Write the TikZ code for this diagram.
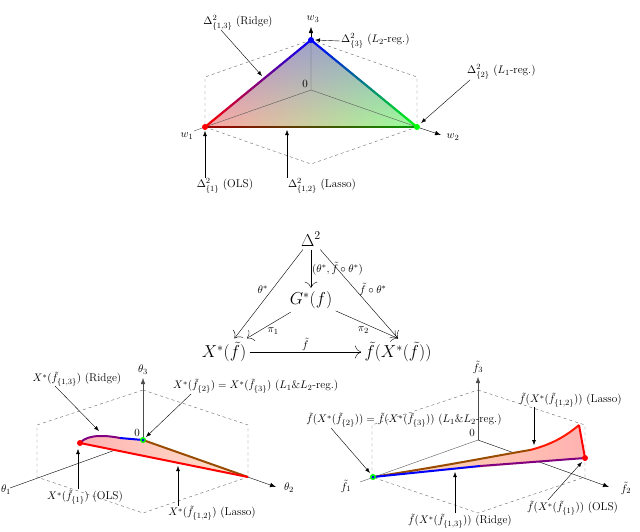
\documentclass[tikz,border=0pt]{standalone}
\usetikzlibrary{fadings,calc,arrows.meta}
\begin{document}
\begin{tikzpicture}[x=1pt,y=-1pt,
  lab/.style={font=\fontsize{11.3}{13}\selectfont,inner sep=1pt},
  big/.style={font=\fontsize{18}{21}\selectfont},
  ptr/.style={-{Latex[length=5pt]},thin},
  ax/.style={gray!70!black,thin},
  axa/.style={-{Latex[length=6pt]},black,thin},
  dsh/.style={dashed,gray!80!black,thin},
  darr/.style={-{To[length=6pt]},thin}]
\useasboundingbox (0,0) rectangle (640,531);
\newcommand\gradseg[4]{\foreach \i in {0,...,19}{\pgfmathtruncatemacro\pp{100-5*\i}
  \draw[line width=2.2pt,color=#3!\pp!#4,line cap=round] ($(#1)!\i/20!(#2)$)--($(#1)!\i/20+0.05!(#2)$);}}
%%%% TOP
\coordinate (O) at (311,90); \coordinate (B) at (311,40);
\coordinate (R) at (205,127); \coordinate (G) at (417,127);
\draw[dsh] (311,40)--(417,77)--(417,127)--(311,164)--(205,127)--(205,77)--cycle;
\shade[left color=red!35,right color=green!40] (R)--(B)--(G)--cycle;
\fill[blue!60,path fading=south,fill opacity=0.45] (R)--(B)--(G)--cycle;
\draw[ax] (O)--(B) (O)--(R) (O)--(G);
\draw[axa] (B)--(311,27); \node[lab] (w3) at (313,19) {$w_3$};
\draw[ax] (R)--(194,131); \node[lab] (w1) at (187,136) {$w_1$};
\draw[axa] (G)--(441,135); \node[lab] (w2) at (453,137) {$w_2$};
\node[lab,anchor=south east] (o0) at (309,89) {$0$};
\gradseg{R}{B}{red}{blue}\gradseg{B}{G}{blue}{green}\gradseg{R}{G}{red}{green!60!black}
\fill[red] (R) circle (3pt); \fill[green] (G) circle (3pt); \fill[blue] (B) circle (3pt);
\node[lab] (l13) at (238,23) {$\Delta^2_{\{1,3\}}$ (Ridge)};
\coordinate (p13) at (262,76); \draw[ptr] (221,30)--(p13);
\node[lab,anchor=west] (l3) at (340,41) {$\Delta^2_{\{3\}}$ ($L_2$-reg.)};
\draw[ptr] (l3.west)--(315,40);
\node[lab,anchor=west] (l2) at (466,72) {$\Delta^2_{\{2\}}$ ($L_1$-reg.)};
\coordinate (p2) at (421,123); \draw[ptr] (470,80)--(p2);
\node[lab] (l1) at (225,186) {$\Delta^2_{\{1\}}$ (OLS)};
\draw[ptr] (205,178)--(205,131);
\node[lab] (l12) at (322,186) {$\Delta^2_{\{1,2\}}$ (Lasso)};
\draw[ptr] (287,178)--(287,130);
%%%% MIDDLE
\node[big] (D) at (311,239) {$\Delta^2$};
\node[big] (Gs) at (311,300) {$G^*(f)$};
\node[big] (X) at (224,352) {$X^*(\tilde f)$};
\node[big] (F) at (398,352) {$\tilde f(X^*(\tilde f))$};
\draw[darr] (D)--(Gs) node[midway,right,lab,font=\fontsize{11}{13}\selectfont] {$(\theta^*,\tilde f\circ\theta^*)$};
\draw[darr] (D)--(X) node[pos=0.45,left,lab,font=\fontsize{11}{13}\selectfont,xshift=-3pt] {$\theta^*$};
\draw[darr] (D)--(F.north) node[pos=0.45,right,lab,font=\fontsize{11}{13}\selectfont,xshift=3pt] {$\tilde f\circ\theta^*$};
\draw[darr] (Gs)--(X) node[pos=0.55,below right,lab,font=\fontsize{11}{13}\selectfont] {$\pi_1$};
\draw[darr] (Gs)--(F.north) node[pos=0.55,below left,lab,font=\fontsize{11}{13}\selectfont] {$\pi_2$};
\draw[darr] (X)--(F) node[midway,above,lab,font=\fontsize{11}{13}\selectfont] {$\tilde f$};
%%%% BOTTOM LEFT
\coordinate (A) at (143,440);
\draw[dsh] (143,390)--(248,425)--(248,477)--(143,513)--(37,477)--(37,425)--cycle;
\draw[ax,black] (A)--(10,488); \node[lab] (t1) at (6,490) {$\theta_1$};
\draw[axa,gray!60!black] (A)--(143,378); \node[lab] (t3) at (143,370) {$\theta_3$};
\draw[axa] (A)--(276,487); \node[lab] (t2) at (289,488) {$\theta_2$};
\node[lab,anchor=south east] at (141,438) {$0$};
\coordinate (Rl) at (80,443); \coordinate (Tl) at (248,477);
\shade[left color=red!30,right color=orange!20] (Rl) .. controls (90,432) and (120,438) .. (A) -- (Tl) -- cycle;
\draw[line width=2pt,violet] (Rl) .. controls (88,433) and (110,436) .. (120,438);
\draw[line width=2pt,blue] (120,438) -- (A);
\draw[line width=2pt,orange!60!black] (A)--(Tl);
\draw[line width=2pt,red] (Rl)--(Tl);
\fill[red] (Rl) circle (3pt);
\fill[green] (A) circle (3pt); \fill[blue] (A) circle (1.5pt);
\node[lab] (b13) at (77,379) {$X^*(\tilde f_{\{1,3\}})$ (Ridge)};
\draw[ptr] (55,386)--(99,431);
\node[lab,anchor=west] (b2) at (172,386) {$X^*(\tilde f_{\{2\}})=X^*(\tilde f_{\{3\}})$ ($L_1$\&$L_2$-reg.)};
\draw[ptr] (191,394)--(146,437);
\node[lab] (b1) at (85,497) {$X^*(\tilde f_{\{1\}})$ (OLS)};
\draw[ptr] (78,489)--(78,449);
\node[lab] (b12) at (212,513) {$X^*(\tilde f_{\{1,2\}})$ (Lasso)};
\draw[ptr] (178,506)--(178,466);
%%%% BOTTOM RIGHT
\coordinate (A2) at (478,440);
\draw[dsh] (478,390)--(585,425)--(585,477)--(478,513)--(372,477)--(372,425)--cycle;
\draw[ax] (A2)--(360,482); \node[lab] (f1) at (346,486) {$\tilde f_1$};
\draw[axa,gray!60!black] (A2)--(478,377); \node[lab] (f3) at (478,367) {$\tilde f_3$};
\draw[axa] (A2)--(609,487); \node[lab] (f2) at (626,488) {$\tilde f_2$};
\node[lab,anchor=south east] at (476,438) {$0$};
\coordinate (Gp) at (373,477); \coordinate (Rp) at (585,458); \coordinate (Tp) at (579,425);
\shade[left color=orange!30,right color=red!30] (Gp) .. controls (450,465) and (500,455) .. (530,450) .. controls (550,445) and (565,437) .. (Tp) -- (Rp) -- cycle;
\draw[line width=2pt,orange!60!black] (Gp) .. controls (450,465) and (500,455) .. (530,450);
\draw[line width=2pt,red!80!orange] (530,450) .. controls (550,445) and (565,437) .. (Tp);
\draw[line width=2pt,red] (Tp)--(Rp);
\draw[line width=2pt,blue] (Gp)--(480,466);
\draw[line width=2pt,violet] (480,466)--(Rp);
\fill[red] (Rp) circle (3pt);
\fill[green] (Gp) circle (3pt); \fill[blue] (Gp) circle (1.5pt);
\node[lab] (c2) at (404,420) {$\tilde f(X^*(\tilde f_{\{2\}}))=\tilde f(X^*(\tilde f_{\{3\}}))$ ($L_1$\&$L_2$-reg.)};
\draw[ptr] (331,428)--(370,473);
\node[lab,anchor=west] (c12) at (518,400) {$\tilde f(X^*(\tilde f_{\{1,2\}}))$ (Lasso)};
\draw[ptr] (534,407)--(534,445);
\node[lab] (c13) at (460,521) {$\tilde f(X^*(\tilde f_{\{1,3\}}))$ (Ridge)};
\draw[ptr] (455,513)--(455,472);
\node[lab,anchor=west] (c1) at (526,508) {$\tilde f(X^*(\tilde f_{\{1\}}))$ (OLS)};
\draw[ptr] (548,500)--(582,462);
\end{tikzpicture}
\end{document}
